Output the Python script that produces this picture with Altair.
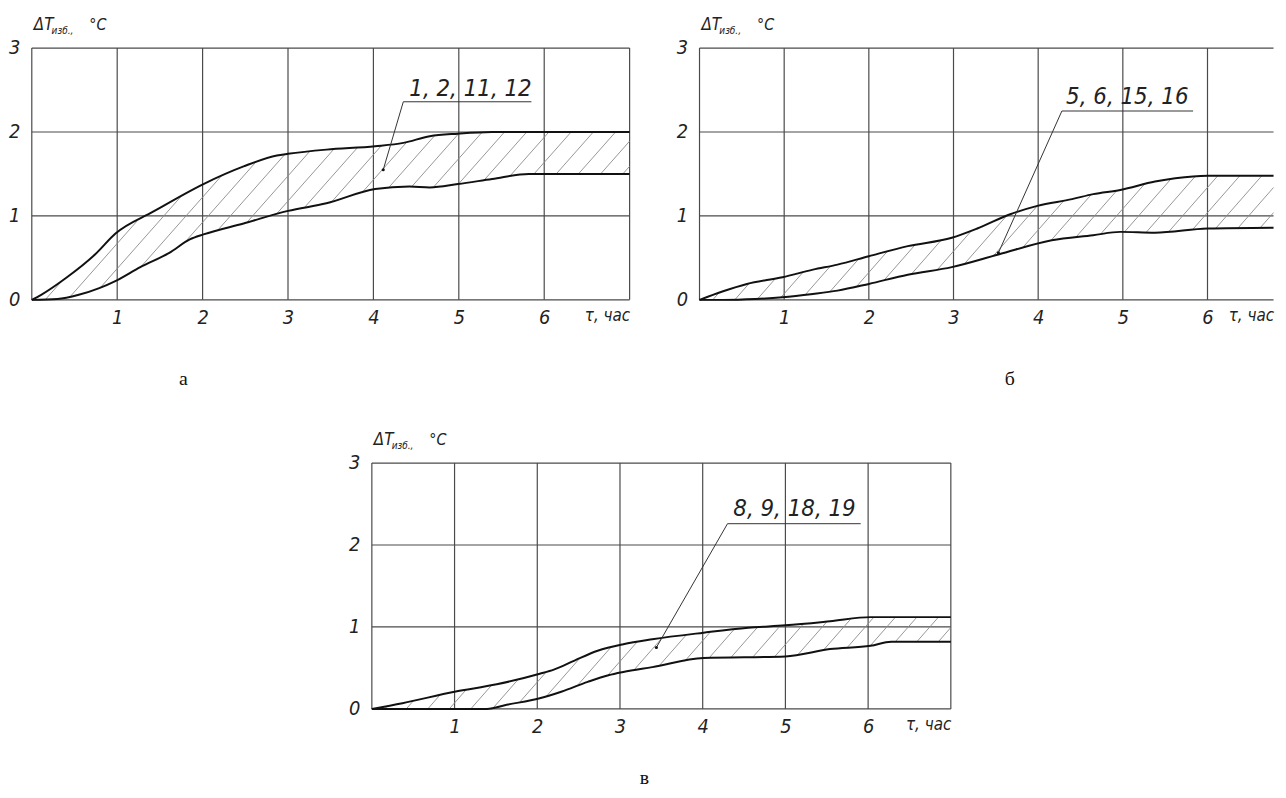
import altair as alt
import numpy as np
import pandas as pd

FONT = "Liberation Sans Narrow, DejaVu Sans Condensed, sans-serif"
SERIF = "Liberation Serif, Times New Roman, serif"

# ---------------- data ----------------
# panel а : curves 1, 2, 11, 12
A_UP_X = [0, 0.11, 0.40, 0.74, 0.98, 1.42, 2.01, 2.48, 2.87, 3.0, 3.45, 4.02, 4.35, 4.66, 4.99, 5.39, 7.0]
A_UP_Y = [0, 0.06, 0.26, 0.54, 0.79, 1.05, 1.38, 1.59, 1.72, 1.74, 1.79, 1.83, 1.87, 1.95, 1.98, 2.0, 2.0]
A_LO_X = [0, 0.30, 0.55, 0.79, 0.99, 1.27, 1.61, 1.85, 2.01, 2.48, 3.0, 3.45, 4.02, 4.42, 4.66, 4.99, 5.39, 5.82, 7.0]
A_LO_Y = [0, 0.01, 0.06, 0.14, 0.23, 0.39, 0.56, 0.72, 0.78, 0.91, 1.06, 1.15, 1.32, 1.35, 1.34, 1.38, 1.44, 1.50, 1.50]

# panel б : curves 5, 6, 15, 16 (cut at the right edge of the picture)
B_UP_X = [0, 0.27, 0.56, 0.98, 1.34, 1.63, 2.0, 2.46, 2.98, 3.28, 3.67, 3.99, 4.4, 4.65, 4.97, 5.38, 5.62, 6.0, 6.78]
B_UP_Y = [0, 0.10, 0.19, 0.27, 0.36, 0.42, 0.52, 0.64, 0.74, 0.85, 1.02, 1.12, 1.20, 1.26, 1.31, 1.41, 1.45, 1.48, 1.48]
B_LO_X = [0, 0.27, 0.66, 0.98, 1.34, 1.63, 2.0, 2.46, 2.98, 3.53, 4.16, 4.65, 4.97, 5.38, 6.0, 6.78]
B_LO_Y = [0, 0.0, 0.01, 0.03, 0.07, 0.11, 0.19, 0.30, 0.39, 0.54, 0.71, 0.77, 0.81, 0.80, 0.85, 0.86]

# panel в : curves 8, 9, 18, 19
C_UP_X = [0, 0.37, 1.0, 1.51, 2.03, 2.2, 2.45, 2.73, 3.04, 3.39, 4.01, 4.55, 5.0, 5.54, 6.03, 7.0]
C_UP_Y = [0, 0.07, 0.21, 0.30, 0.43, 0.48, 0.59, 0.71, 0.79, 0.85, 0.93, 0.99, 1.02, 1.07, 1.12, 1.12]
C_LO_X = [0, 1.0, 1.39, 1.63, 2.03, 2.29, 2.61, 2.86, 3.04, 3.39, 4.01, 5.0, 5.54, 6.03, 6.28, 7.0]
C_LO_Y = [0, 0.0, 0.0, 0.05, 0.13, 0.21, 0.33, 0.41, 0.45, 0.51, 0.62, 0.64, 0.73, 0.77, 0.82, 0.82]

X_TICKS = [1, 2, 3, 4, 5, 6]
Y_TICKS = [0, 1, 2, 3]
X_TITLE = "τ, час"
NOTES = ["1, 2, 11, 12", "5, 6, 15, 16", "8, 9, 18, 19"]
LETTERS = ["а", "б", "в"]

GRID = "#4a4a4a"
INK = "#111111"
HATCH = "#8a8a8a"


def hatch_segments(ux, uy, lx, ly, xmax, step=0.26, k=1.15):
    xs = np.linspace(0, xmax, 4000)
    up = np.interp(xs, ux, uy)
    lo = np.interp(xs, lx, ly)
    segs = []
    c = step * 0.6
    while c < xmax:
        y = k * (xs - c)
        inside = np.where((y >= lo) & (y <= up) & (y >= 0))[0]
        if len(inside) > 1:
            i0, i1 = inside[0], inside[-1]
            segs.append((xs[i0], y[i0], xs[i1], y[i1]))
        c += step
    return pd.DataFrame(segs, columns=["x", "y", "x2", "y2"])


def panel(ux, uy, lx, ly, xmax, width, height, note, dot, corner, end_x, text_xy, letter, letter_px):
    xs = alt.Scale(domain=[0, xmax], nice=False, zero=False)
    ys = alt.Scale(domain=[0, 3], nice=False, zero=False)
    x_axis = alt.Axis(
        values=X_TICKS + [xmax],
        labelExpr=f"datum.value > 6.5 ? '{X_TITLE}' : datum.label",
        labelAlign={"condition": {"test": "datum.value > 6.5", "value": "right"}, "value": "center"},
        labelFontSize={"condition": {"test": "datum.value > 6.5", "value": 17}, "value": 20},
        grid=False, domain=False, ticks=False, tickSize=0, title=None,
        labelFont=FONT, labelFontStyle="italic", labelColor="#222",
        labelPadding=8, labelFlush=False, labelOverlap=False,
    )
    y_axis = alt.Axis(
        values=Y_TICKS, grid=False, domain=False, ticks=False, tickSize=0, title=None,
        labelFont=FONT, labelFontStyle="italic", labelFontSize=20, labelColor="#222",
        labelPadding=12, labelFlush=False, labelOverlap=False,
    )

    def X(f):
        return alt.X(f, type="quantitative", scale=xs, axis=x_axis)

    def Y(f):
        return alt.Y(f, type="quantitative", scale=ys, axis=y_axis)

    vgrid = pd.DataFrame({"g": [v for v in range(8) if v <= xmax + 1e-9]})
    hgrid = pd.DataFrame({"h": Y_TICKS})
    grid_v = alt.Chart(vgrid).mark_rule(color=GRID, strokeWidth=1.2).encode(x=X("g"))
    grid_h = alt.Chart(hgrid).mark_rule(color=GRID, strokeWidth=1.2).encode(y=Y("h"))

    hatch = alt.Chart(hatch_segments(ux, uy, lx, ly, xmax)).mark_rule(
        color=HATCH, strokeWidth=0.9
    ).encode(x=X("x"), y=Y("y"), x2="x2", y2="y2")

    curves = pd.concat([
        pd.DataFrame({"x": ux, "y": uy, "s": "upper"}),
        pd.DataFrame({"x": lx, "y": ly, "s": "lower"}),
    ])
    lines = alt.Chart(curves).mark_line(
        interpolate="monotone", color=INK, strokeWidth=2
    ).encode(x=X("x"), y=Y("y"), detail="s:N")

    lead = pd.DataFrame({
        "x": [dot[0], corner[0]], "y": [dot[1], corner[1]],
        "x2": [corner[0], end_x], "y2": [corner[1], corner[1]],
    })
    leader = alt.Chart(lead).mark_rule(color="#333", strokeWidth=1).encode(
        x=X("x"), y=Y("y"), x2="x2", y2="y2")
    dotc = alt.Chart(pd.DataFrame({"x": [dot[0]], "y": [dot[1]]})).mark_circle(
        color=INK, size=10, opacity=1).encode(x=X("x"), y=Y("y"))
    notet = alt.Chart(pd.DataFrame({"x": [text_xy[0]], "y": [text_xy[1]], "t": [note]})).mark_text(
        align="left", baseline="alphabetic", font=FONT, fontStyle="italic", fontSize=24, color="#222"
    ).encode(x=X("x"), y=Y("y"), text="t:N")

    letter_t = alt.Chart(pd.DataFrame({"t": [letter]})).mark_text(
        font=SERIF, fontSize=20, color="#111", baseline="middle", align="center"
    ).encode(x=alt.value(letter_px[0]), y=alt.value(letter_px[1]), text="t:N")

    t1 = alt.Chart(pd.DataFrame({"t": ["ΔT"]})).mark_text(
        font=FONT, fontStyle="italic", fontSize=17, align="left", baseline="middle", color="#222"
    ).encode(x=alt.value(2), y=alt.value(-23), text="t:N")
    t2 = alt.Chart(pd.DataFrame({"t": ["изб.,"]})).mark_text(
        font=FONT, fontStyle="italic", fontSize=10, align="left", baseline="middle", color="#222"
    ).encode(x=alt.value(20), y=alt.value(-17), text="t:N")
    t3 = alt.Chart(pd.DataFrame({"t": ["°C"]})).mark_text(
        font=FONT, fontStyle="italic", fontSize=16, align="left", baseline="middle", color="#222"
    ).encode(x=alt.value(58), y=alt.value(-23), text="t:N")

    return alt.layer(grid_v, grid_h, hatch, lines, leader, dotc, notet, letter_t, t1, t2, t3).properties(
        width=width, height=height)


pa = panel(A_UP_X, A_UP_Y, A_LO_X, A_LO_Y, 7, 603, 254, NOTES[0],
           (4.115, 1.55), (4.35, 2.36), 5.85, (4.42, 2.43), LETTERS[0], (153, 334))
pb = panel(B_UP_X, B_UP_Y, B_LO_X, B_LO_Y, 6.78, 579, 254, NOTES[1],
           (3.53, 0.56), (4.28, 2.25), 5.83, (4.33, 2.33), LETTERS[1], (313, 334))
pc = panel(C_UP_X, C_UP_Y, C_LO_X, C_LO_Y, 7, 584, 248, NOTES[2],
           (3.44, 0.75), (4.30, 2.26), 5.91, (4.37, 2.35), LETTERS[2], (275, 318))

spacer = alt.Chart(pd.DataFrame({"s": [0]})).mark_point(opacity=0).encode(
    x=alt.X("s:Q", axis=None), y=alt.Y("s:Q", axis=None)).properties(width=343, height=1)

row1 = alt.hconcat(pa, pb, spacing=70.5, bounds="flush")
row2 = alt.hconcat(spacer, pc, spacing=0, bounds="flush")

# with flush bounds the nested first row counts as zero height, so the
# spacing carries the row's height plus the gap between the rows
chart = alt.vconcat(row1, row2, spacing=418.6, bounds="flush").properties(
    padding={"left": 0, "top": 5, "right": 0, "bottom": 0},
    background="white",
).configure_view(stroke=None)

chart.save("out.html", embed_options={"renderer": "svg", "actions": False})
